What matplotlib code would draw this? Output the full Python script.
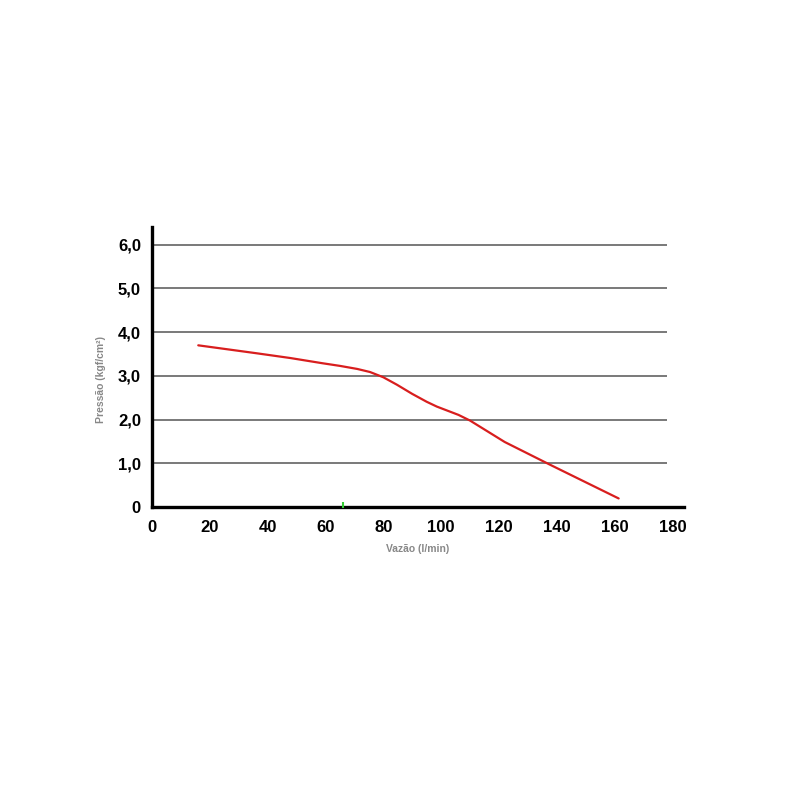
import matplotlib.pyplot as plt

vazao = [16, 36, 47.8, 59, 65, 71, 75.4, 80, 84.7, 90, 95, 98.5, 106, 110, 122, 138, 161.4]
pressao = [3.70, 3.52, 3.41, 3.29, 3.23, 3.16, 3.09, 2.97, 2.80, 2.59, 2.41, 2.30, 2.11, 1.98, 1.49, 0.96, 0.20]
marca_x, marca_y = [66], [0.05]

xticks = [0, 20, 40, 60, 80, 100, 120, 140, 160, 180]
yticks = [0, 1, 2, 3, 4, 5, 6]
ylabels = ['0', '1,0', '2,0', '3,0', '4,0', '5,0', '6,0']

plt.rcParams['font.family'] = ['Liberation Sans', 'DejaVu Sans']

fig = plt.figure(figsize=(8, 8), dpi=100)
ax = fig.add_axes([0.19, 0.366, 0.665, 0.35])
ax.set_xlim(0, 184)
ax.set_ylim(0, 6.4)

ax.hlines(yticks[1:], 0, 178, colors='#555555', linewidth=1.1, zorder=1)
ax.plot(vazao, pressao, color='#d81e1e', linewidth=1.6, zorder=3,
        solid_joinstyle='round', solid_capstyle='round')
ax.plot(marca_x, marca_y, marker='|', color='#33cc33', markersize=5, mew=1.5, zorder=4)

for s in ['top', 'right']:
    ax.spines[s].set_visible(False)
for s in ['left', 'bottom']:
    ax.spines[s].set_linewidth(2.4)
    ax.spines[s].set_color('black')

ax.set_xticks(xticks)
ax.set_xticklabels([str(t) for t in xticks], fontsize=12, fontweight='bold')
ax.set_yticks(yticks)
ax.set_yticklabels(ylabels, fontsize=12, fontweight='bold')
ax.tick_params(axis='x', length=0, pad=9)
ax.tick_params(axis='y', length=0, pad=8)

ax.set_xlabel('Vazão (l/min)', fontsize=7.5, color='#888888', fontweight='bold')
ax.xaxis.set_label_coords(0.5, -0.132)
ax.set_ylabel('Pressão (kgf/cm²)', fontsize=7.5, color='#888888', fontweight='bold')
ax.yaxis.set_label_coords(-0.086, 0.455)

fig.savefig('out.png', dpi=100, facecolor='white')
